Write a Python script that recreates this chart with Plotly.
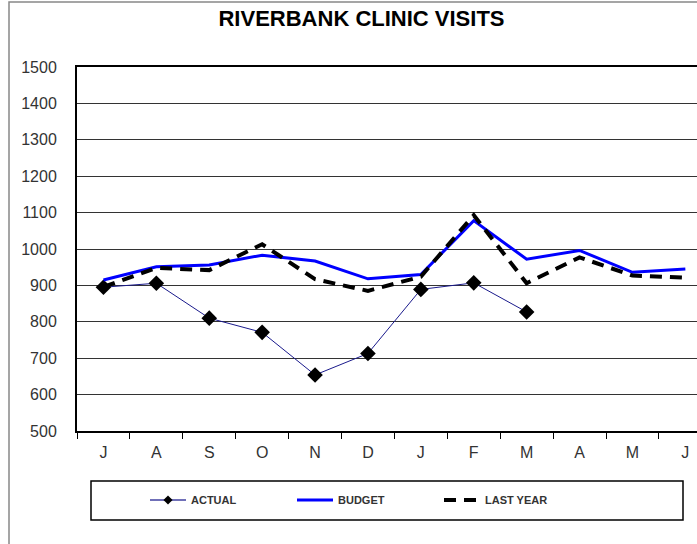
import plotly.graph_objects as go

# Monthly visits, fiscal year July -> June
months = ["J", "A", "S", "O", "N", "D", "J", "F", "M", "A", "M", "J"]
actual = [895, 906, 810, 771, 654, 713, 889, 907, 827]
budget = [915, 951, 956, 983, 967, 918, 930, 1078, 972, 996, 936, 945]
last_year = [896, 948, 942, 1013, 917, 885, 924, 1093, 906, 977, 927, 921]
y_ticks = [500, 600, 700, 800, 900, 1000, 1100, 1200, 1300, 1400, 1500]

x = list(range(len(months)))
font = "Arial, Liberation Sans, sans-serif"

fig = go.Figure()

fig.add_trace(go.Scatter(
    x=x[:len(actual)], y=actual, name="ACTUAL", mode="lines+markers",
    line=dict(color="#1a1a8c", width=1),
    marker=dict(symbol="diamond", size=12, color="black"),
    showlegend=False,
))
# legend entry only, with a small marker like the original
fig.add_trace(go.Scatter(
    x=[None], y=[None], name="ACTUAL", mode="lines+markers",
    line=dict(color="#7070b8", width=2),
    marker=dict(symbol="diamond", size=7, color="black"),
))
fig.add_trace(go.Scatter(
    x=x, y=budget, name="BUDGET", mode="lines",
    line=dict(color="#0000ff", width=3),
))
fig.add_trace(go.Scatter(
    x=x, y=last_year, name="LAST YEAR", mode="lines",
    line=dict(color="black", width=4, dash="12px,8px"),
))

# plot area in pixels: left 77, right 697, top 67, bottom 431
pw, ph = 620, 364
fig.add_shape(type="rect", xref="paper", yref="paper",
              x0=(9 - 77) / pw, x1=1.2, y0=-0.4, y1=(431 - 2) / ph,
              line=dict(color="#888", width=1.5))
fig.add_shape(type="rect", xref="paper", yref="paper",
              x0=(91 - 77) / pw, x1=(683 - 77) / pw,
              y0=(431 - 520) / ph, y1=(431 - 481) / ph,
              line=dict(color="black", width=1.5))

fig.update_layout(
    width=697, height=544,
    margin=dict(l=77, r=0, t=67, b=113),
    paper_bgcolor="white", plot_bgcolor="white",
    font=dict(family=font, color="#222"),
    title=dict(text="<b>RIVERBANK CLINIC VISITS</b>", x=361.5 / 697, xanchor="center",
               y=1 - 18.5 / 544, yanchor="middle", font=dict(size=22, color="black")),
    xaxis=dict(
        range=[-0.5, -0.5 + pw / 52.9],
        tickmode="array", tickvals=x, ticktext=months,
        ticks="", ticklabelstandoff=6, tickfont=dict(size=16, color="#333"),
        minor=dict(tickmode="array", tickvals=[i - 0.5 for i in x] + [len(x) - 0.5],
                   ticks="outside", ticklen=6, tickcolor="black", tickwidth=1),
        showgrid=False, zeroline=False,
        showline=True, linecolor="black", linewidth=2, mirror=True,
    ),
    yaxis=dict(
        range=[500, 1500], tickmode="array", tickvals=y_ticks,
        ticklabelstandoff=15, tickfont=dict(size=16, color="#333"),
        showgrid=True, gridcolor="#333", gridwidth=1, zeroline=False,
        showline=True, linecolor="black", linewidth=2,
    ),
    showlegend=True,
    legend=dict(orientation="h", x=(145 - 77) / pw, xanchor="left",
                y=(431 - 500) / ph, yanchor="middle",
                itemwidth=36, entrywidth=96, entrywidthmode="pixels",
                font=dict(size=11, color="#333", family=font, weight="bold"),
                bgcolor="rgba(0,0,0,0)"),
)

fig.write_html("out.html", config={"displayModeBar": False},
               post_script="document.body.style.margin = '0';")
